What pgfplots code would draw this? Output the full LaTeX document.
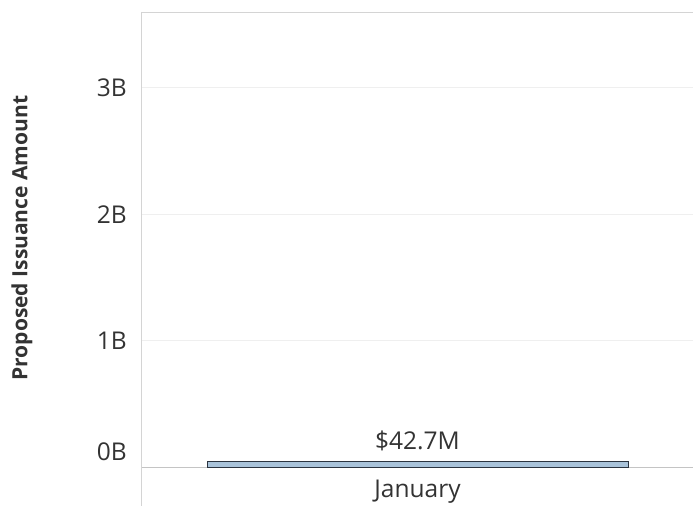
\documentclass[border=0pt]{standalone}
\usepackage{fontspec}
\setmainfont{Open Sans}
\usepackage{pgfplots}
\pgfplotsset{compat=1.18}
\definecolor{gridc}{HTML}{EFEFEF}
\definecolor{axisc}{HTML}{D4D4D4}
\definecolor{zeroc}{HTML}{C4C4C4}
\definecolor{barc}{HTML}{A9C3DA}
\definecolor{barline}{HTML}{2B3440}
\definecolor{txt}{HTML}{333333}
\newcommand{\tfont}{\fontsize{24.5bp}{28bp}\selectfont}
\begin{document}
\begin{tikzpicture}
\useasboundingbox (-142bp,-39bp) rectangle (551bp,467bp);
\begin{axis}[
  at={(0,0)}, anchor=south west,
  scale only axis, width=551bp, height=455bp,
  xmin=-0.5, xmax=0.5, ymin=0, ymax=3.6,
  axis line style={draw=none},
  major tick length=0pt,
  ytick={1,2,3}, yticklabels={1B,2B,3B},
  extra y ticks={0}, extra y tick labels={0B},
  extra y tick style={grid style={zeroc, line width=1pt}, yticklabel style={yshift=15bp}},
  ymajorgrids, grid style={gridc, line width=0.8pt},
  yticklabel style={anchor=east, inner sep=0pt, xshift=-15bp, font=\tfont, text=txt},
  xtick={0}, xticklabels={January},
  xticklabel style={anchor=center, inner sep=0pt, yshift=-25bp, font=\tfont, text=txt},
  every axis y label/.style={at={(axis description cs:0,0.503)}, xshift=-120bp, rotate=90, anchor=center, font=\bfseries\fontsize{21bp}{24bp}\selectfont, text=txt},
  ylabel={Proposed Issuance Amount},
  clip=false,
]
\addplot[ybar, bar width=421bp, fill=barc, draw=barline, line width=1pt,
  point meta=explicit symbolic, nodes near coords,
  every node near coord/.style={font=\tfont, text=txt, anchor=center, yshift=21bp}]
  coordinates {(0,0.0427) [\$42.7M]};
\draw[axisc, line width=1pt] (rel axis cs:0,1) -- (rel axis cs:1,1);
\draw[axisc, line width=1pt] (rel axis cs:0,1) -- ([yshift=-39bp]rel axis cs:0,0);
\end{axis}
\end{tikzpicture}
\end{document}
